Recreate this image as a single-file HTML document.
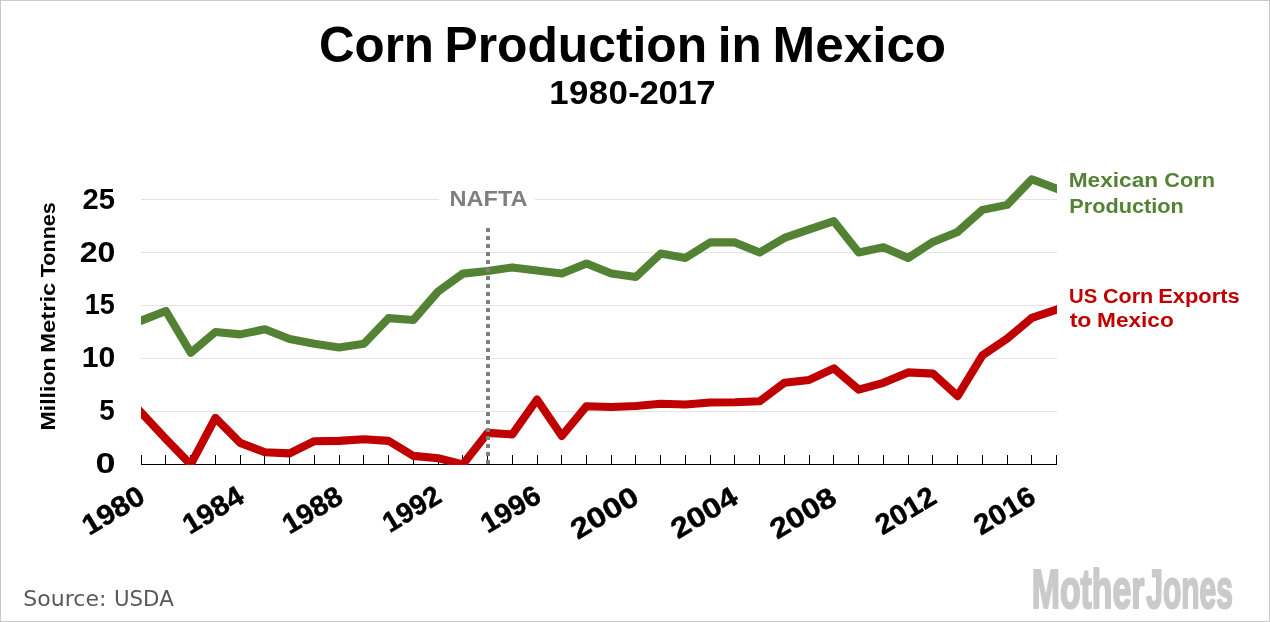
<!DOCTYPE html>
<html lang="en"><head><meta charset="utf-8"><title>Corn Production in Mexico</title>
<style>
html,body{margin:0;padding:0;background:#fff;}
body{width:1270px;height:622px;overflow:hidden;}
svg{display:block;}
text{font-family:"Liberation Sans",sans-serif;font-weight:bold;}
text.src{font-family:"DejaVu Sans","Liberation Sans",sans-serif;font-weight:normal;}
</style></head><body>
<svg width="1270" height="622" viewBox="0 0 1270 622">
<rect x="0" y="0" width="1270" height="622" fill="#fff"/>
<rect x="0.5" y="0.5" width="1269" height="621" fill="none" stroke="#c9c9c9" stroke-width="1"/>
<defs><clipPath id="plot"><rect x="141" y="150" width="916" height="315"/></clipPath></defs>
<text y="62.00" font-size="49.80" fill="#000"><tspan x="318.93" textLength="115.08" lengthAdjust="spacingAndGlyphs">Corn</tspan> <tspan x="444.46" textLength="262.74" lengthAdjust="spacingAndGlyphs">Production</tspan> <tspan x="717.83" textLength="44.02" lengthAdjust="spacingAndGlyphs">in</tspan> <tspan x="772.57" textLength="173.58" lengthAdjust="spacingAndGlyphs">Mexico</tspan></text>
<text transform="scale(1.04,1)" y="103.80" font-size="33.4" fill="#000" x="528.16 547.11 566.05 584.99 604.17 614.93 633.15 651.38 669.60">1980-2017</text>
<line x1="141" y1="199.5" x2="1057.0" y2="199.5" stroke="#e4e4e4" stroke-width="1"/>
<line x1="141" y1="252.5" x2="1057.0" y2="252.5" stroke="#e4e4e4" stroke-width="1"/>
<line x1="141" y1="305.5" x2="1057.0" y2="305.5" stroke="#e4e4e4" stroke-width="1"/>
<line x1="141" y1="358.5" x2="1057.0" y2="358.5" stroke="#e4e4e4" stroke-width="1"/>
<line x1="141" y1="411.5" x2="1057.0" y2="411.5" stroke="#e4e4e4" stroke-width="1"/>
<line x1="488" y1="227.5" x2="488" y2="464" stroke="#fff" stroke-width="6.5" stroke-dasharray="5 3"/>
<rect x="438.7" y="185" width="96" height="30" fill="#fff"/>
<text y="206.20" font-size="21.70" fill="#7f7f7f"><tspan x="449.47" textLength="78.12" lengthAdjust="spacingAndGlyphs">NAFTA</tspan></text>
<line x1="141" y1="464.5" x2="1057.0" y2="464.5" stroke="#000" stroke-width="1"/>
<line x1="141.5" y1="455" x2="141.5" y2="465" stroke="#000" stroke-width="1"/>
<line x1="165.5" y1="455" x2="165.5" y2="465" stroke="#000" stroke-width="1"/>
<line x1="190.5" y1="455" x2="190.5" y2="465" stroke="#000" stroke-width="1"/>
<line x1="215.5" y1="455" x2="215.5" y2="465" stroke="#000" stroke-width="1"/>
<line x1="240.5" y1="455" x2="240.5" y2="465" stroke="#000" stroke-width="1"/>
<line x1="264.5" y1="455" x2="264.5" y2="465" stroke="#000" stroke-width="1"/>
<line x1="289.5" y1="455" x2="289.5" y2="465" stroke="#000" stroke-width="1"/>
<line x1="314.5" y1="455" x2="314.5" y2="465" stroke="#000" stroke-width="1"/>
<line x1="339.5" y1="455" x2="339.5" y2="465" stroke="#000" stroke-width="1"/>
<line x1="363.5" y1="455" x2="363.5" y2="465" stroke="#000" stroke-width="1"/>
<line x1="388.5" y1="455" x2="388.5" y2="465" stroke="#000" stroke-width="1"/>
<line x1="413.5" y1="455" x2="413.5" y2="465" stroke="#000" stroke-width="1"/>
<line x1="438.5" y1="455" x2="438.5" y2="465" stroke="#000" stroke-width="1"/>
<line x1="462.5" y1="455" x2="462.5" y2="465" stroke="#000" stroke-width="1"/>
<line x1="487.5" y1="455" x2="487.5" y2="465" stroke="#000" stroke-width="1"/>
<line x1="512.5" y1="455" x2="512.5" y2="465" stroke="#000" stroke-width="1"/>
<line x1="537.5" y1="455" x2="537.5" y2="465" stroke="#000" stroke-width="1"/>
<line x1="561.5" y1="455" x2="561.5" y2="465" stroke="#000" stroke-width="1"/>
<line x1="586.5" y1="455" x2="586.5" y2="465" stroke="#000" stroke-width="1"/>
<line x1="611.5" y1="455" x2="611.5" y2="465" stroke="#000" stroke-width="1"/>
<line x1="635.5" y1="455" x2="635.5" y2="465" stroke="#000" stroke-width="1"/>
<line x1="660.5" y1="455" x2="660.5" y2="465" stroke="#000" stroke-width="1"/>
<line x1="685.5" y1="455" x2="685.5" y2="465" stroke="#000" stroke-width="1"/>
<line x1="710.5" y1="455" x2="710.5" y2="465" stroke="#000" stroke-width="1"/>
<line x1="734.5" y1="455" x2="734.5" y2="465" stroke="#000" stroke-width="1"/>
<line x1="759.5" y1="455" x2="759.5" y2="465" stroke="#000" stroke-width="1"/>
<line x1="784.5" y1="455" x2="784.5" y2="465" stroke="#000" stroke-width="1"/>
<line x1="809.5" y1="455" x2="809.5" y2="465" stroke="#000" stroke-width="1"/>
<line x1="833.5" y1="455" x2="833.5" y2="465" stroke="#000" stroke-width="1"/>
<line x1="858.5" y1="455" x2="858.5" y2="465" stroke="#000" stroke-width="1"/>
<line x1="883.5" y1="455" x2="883.5" y2="465" stroke="#000" stroke-width="1"/>
<line x1="908.5" y1="455" x2="908.5" y2="465" stroke="#000" stroke-width="1"/>
<line x1="932.5" y1="455" x2="932.5" y2="465" stroke="#000" stroke-width="1"/>
<line x1="957.5" y1="455" x2="957.5" y2="465" stroke="#000" stroke-width="1"/>
<line x1="982.5" y1="455" x2="982.5" y2="465" stroke="#000" stroke-width="1"/>
<line x1="1007.5" y1="455" x2="1007.5" y2="465" stroke="#000" stroke-width="1"/>
<line x1="1031.5" y1="455" x2="1031.5" y2="465" stroke="#000" stroke-width="1"/>
<line x1="1056.5" y1="455" x2="1056.5" y2="465" stroke="#000" stroke-width="1"/>
<text y="209.20" font-size="28.90" fill="#000"><tspan x="82.48" textLength="32.42" lengthAdjust="spacingAndGlyphs">25</tspan></text>
<text y="262.15" font-size="28.90" fill="#000"><tspan x="79.78" textLength="35.68" lengthAdjust="spacingAndGlyphs">20</tspan></text>
<text y="314.00" font-size="28.90" fill="#000"><tspan x="84.85" textLength="29.99" lengthAdjust="spacingAndGlyphs">15</tspan></text>
<text y="367.05" font-size="28.90" fill="#000"><tspan x="81.84" textLength="33.54" lengthAdjust="spacingAndGlyphs">10</tspan></text>
<text y="420.10" font-size="28.90" fill="#000"><tspan x="99.27" textLength="15.46" lengthAdjust="spacingAndGlyphs">5</tspan></text>
<text y="473.10" font-size="28.90" fill="#000"><tspan x="95.56" textLength="20.02" lengthAdjust="spacingAndGlyphs">0</tspan></text>
<text transform="translate(55.0,429.2) rotate(-90)" y="0" font-size="21" fill="#000"><tspan x="-1.30" textLength="73.11" lengthAdjust="spacingAndGlyphs">Million</tspan> <tspan x="76.45" textLength="70.07" lengthAdjust="spacingAndGlyphs">Metric</tspan> <tspan x="151.98" textLength="75.11" lengthAdjust="spacingAndGlyphs">Tonnes</tspan></text>
<text transform="translate(145.94,501.92) rotate(-31)" font-size="28.2" fill="#000" stroke="#000" stroke-width="0.45"><tspan x="-66.20" textLength="67.40" lengthAdjust="spacingAndGlyphs">1980</tspan></text>
<text transform="translate(245.82,501.44) rotate(-31)" font-size="28.2" fill="#000" stroke="#000" stroke-width="0.45"><tspan x="-65.39" textLength="65.53" lengthAdjust="spacingAndGlyphs">1984</tspan></text>
<text transform="translate(343.94,502.08) rotate(-31)" font-size="28.2" fill="#000" stroke="#000" stroke-width="0.45"><tspan x="-63.49" textLength="64.35" lengthAdjust="spacingAndGlyphs">1988</tspan></text>
<text transform="translate(442.54,501.44) rotate(-31)" font-size="28.2" fill="#000" stroke="#000" stroke-width="0.45"><tspan x="-61.58" textLength="62.69" lengthAdjust="spacingAndGlyphs">1992</tspan></text>
<text transform="translate(542.10,501.28) rotate(-31)" font-size="28.2" fill="#000" stroke="#000" stroke-width="0.45"><tspan x="-63.50" textLength="64.50" lengthAdjust="spacingAndGlyphs">1996</tspan></text>
<text transform="translate(639.90,502.56) rotate(-31)" font-size="28.2" fill="#000" stroke="#000" stroke-width="0.45"><tspan x="-72.48" textLength="73.79" lengthAdjust="spacingAndGlyphs">2000</tspan></text>
<text transform="translate(739.94,502.32) rotate(-31)" font-size="28.2" fill="#000" stroke="#000" stroke-width="0.45"><tspan x="-72.27" textLength="72.42" lengthAdjust="spacingAndGlyphs">2004</tspan></text>
<text transform="translate(837.90,503.20) rotate(-31)" font-size="28.2" fill="#000" stroke="#000" stroke-width="0.45"><tspan x="-70.77" textLength="71.72" lengthAdjust="spacingAndGlyphs">2008</tspan></text>
<text transform="translate(937.46,502.56) rotate(-31)" font-size="28.2" fill="#000" stroke="#000" stroke-width="0.45"><tspan x="-64.13" textLength="65.30" lengthAdjust="spacingAndGlyphs">2012</tspan></text>
<text transform="translate(1036.86,502.16) rotate(-31)" font-size="28.2" fill="#000" stroke="#000" stroke-width="0.45"><tspan x="-65.08" textLength="66.11" lengthAdjust="spacingAndGlyphs">2016</tspan></text>
<g clip-path="url(#plot)" fill="none" stroke-linejoin="round" stroke-linecap="butt">
<polyline points="131.3,324.4 141.2,320.6 165.9,311.0 190.7,352.8 215.4,332.0 240.2,334.4 264.9,329.2 289.6,339.0 314.4,343.7 339.1,347.4 363.9,343.7 388.6,318.1 413.3,320.0 438.1,291.5 462.8,273.6 487.6,271.0 512.3,267.4 537.0,270.6 561.8,273.6 586.5,263.6 611.3,273.6 636.0,276.9 660.7,253.6 685.5,257.9 710.2,242.4 735.0,242.4 759.7,252.5 784.4,237.9 809.2,229.4 833.9,221.2 858.7,252.5 883.4,247.2 908.1,258.0 932.9,241.9 957.6,231.9 982.4,209.9 1007.1,204.9 1031.8,179.3 1056.6,188.7 1066.5,192.5" stroke="#548235" stroke-width="8.1"/>
<polyline points="131.3,402.0 141.2,412.6 165.9,439.0 190.7,464.5 215.4,417.9 240.2,442.9 264.9,452.2 289.6,453.4 314.4,441.2 339.1,440.9 363.9,439.2 388.6,440.9 413.3,455.9 438.1,458.2 462.8,464.5 487.6,432.9 512.3,434.4 537.0,399.5 561.8,436.0 586.5,406.2 611.3,407.0 636.0,406.0 660.7,403.7 685.5,404.5 710.2,402.5 735.0,402.2 759.7,401.3 784.4,382.8 809.2,379.9 833.9,368.4 858.7,389.6 883.4,382.8 908.1,372.4 932.9,373.6 957.6,396.1 982.4,355.4 1007.1,338.7 1031.8,317.9 1056.6,309.5 1066.5,306.1" stroke="#c00000" stroke-width="8.1"/>
</g>
<line x1="488" y1="228" x2="488" y2="464" stroke="#7f7f7f" stroke-width="4" stroke-dasharray="4 4"/>
<text y="186.50" font-size="20.40" fill="#548235"><tspan x="1068.73" textLength="89.46" lengthAdjust="spacingAndGlyphs">Mexican</tspan> <tspan x="1164.23" textLength="50.74" lengthAdjust="spacingAndGlyphs">Corn</tspan></text>
<text y="212.70" font-size="20.40" fill="#548235"><tspan x="1069.29" textLength="114.56" lengthAdjust="spacingAndGlyphs">Production</tspan></text>
<text y="302.50" font-size="20.40" fill="#c00000"><tspan x="1068.98" textLength="28.22" lengthAdjust="spacingAndGlyphs">US</tspan> <tspan x="1102.94" textLength="50.32" lengthAdjust="spacingAndGlyphs">Corn</tspan> <tspan x="1158.18" textLength="81.57" lengthAdjust="spacingAndGlyphs">Exports</tspan></text>
<text y="327.30" font-size="20.40" fill="#c00000"><tspan x="1069.67" textLength="21.83" lengthAdjust="spacingAndGlyphs">to</tspan> <tspan x="1097.03" textLength="76.78" lengthAdjust="spacingAndGlyphs">Mexico</tspan></text>
<text class="src" y="605.80" font-size="21.50" fill="#595959"><tspan x="23.37" textLength="82.99" lengthAdjust="spacingAndGlyphs">Source:</tspan> <tspan x="113.88" textLength="59.89" lengthAdjust="spacingAndGlyphs">USDA</tspan></text>
<text y="607.80" font-size="55.56" fill="#cacaca" stroke="#cacaca" stroke-width="2.2" stroke-linejoin="round"><tspan x="1031.80" textLength="112.64" lengthAdjust="spacingAndGlyphs">Mother</tspan> <tspan x="1146.25" textLength="86.65" lengthAdjust="spacingAndGlyphs">Jones</tspan></text>
</svg></body></html>
